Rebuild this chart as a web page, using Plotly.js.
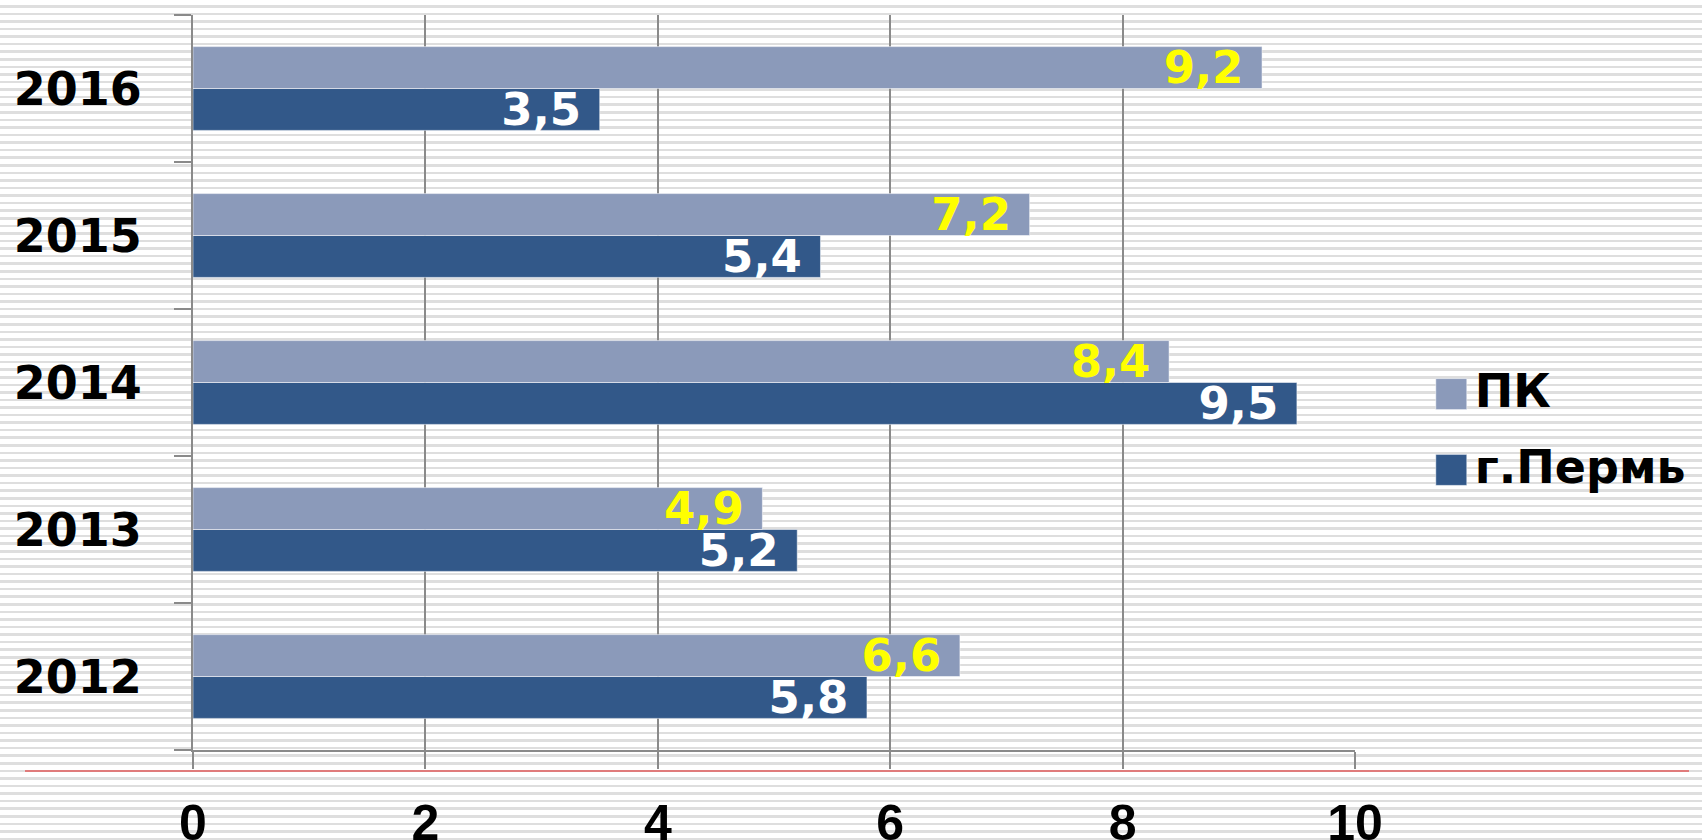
<!DOCTYPE html>
<html>
<head>
<meta charset="utf-8">
<script src="https://cdn.plot.ly/plotly-3.0.1.min.js"></script>
<style>
  html, body { margin: 0; padding: 0; }
  body {
    width: 1702px; height: 840px; overflow: hidden; position: relative;
    background: repeating-linear-gradient(to bottom, #ffffff 0px, #ffffff 5px, #dedede 5px, #dedede 7.57px);
  }
  #myDiv { width: 1702px; height: 840px; }
  #redline { position: absolute; left: 25px; top: 770px; width: 1664px; height: 2px; background: #e07b7b; }
</style>
</head>
<body>
<div id="myDiv"></div>
<div id="redline"></div>
<script>
var years = ['2012', '2013', '2014', '2015', '2016'];
var pkValues = [6.6, 4.9, 8.4, 7.2, 9.2];
var permValues = [5.8, 5.2, 9.5, 5.4, 3.5];
var xTicks = [0, 2, 4, 6, 8, 10];

var boldFont = 'DejaVu Sans, sans-serif';

// first trace sits lower inside each group, so Пермь goes first
var perm = {
    type: 'bar',
    orientation: 'h',
    name: 'г.Пермь',
    legendgroup: 'perm',
    legendrank: 2,
    y: years,
    x: permValues,
    marker: { color: '#325889', line: { width: 1, color: 'rgba(255,255,255,0.5)' } },
    texttemplate: '%{x:.1f}\u00a0',
    textposition: 'inside',
    insidetextanchor: 'end',
    constraintext: 'none',
    textangle: 0,
    insidetextfont: { family: boldFont, size: 45, weight: 'bold', color: '#ffffff' },
    hoverinfo: 'skip'
};

var pk = {
    type: 'bar',
    orientation: 'h',
    name: 'ПК',
    legendgroup: 'pk',
    legendrank: 1,
    y: years,
    x: pkValues,
    marker: { color: '#8b9aba', line: { width: 1, color: 'rgba(255,255,255,0.5)' } },
    texttemplate: '%{x:.1f}\u00a0',
    textposition: 'inside',
    insidetextanchor: 'end',
    constraintext: 'none',
    textangle: 0,
    insidetextfont: { family: boldFont, size: 45, weight: 'bold', color: '#ffff00' },
    hoverinfo: 'skip'
};

var layout = {
    width: 1702,
    height: 840,
    margin: { l: 193, r: 347, t: 15, b: 90 },
    paper_bgcolor: 'rgba(0,0,0,0)',
    plot_bgcolor: 'rgba(0,0,0,0)',
    separators: ', ',
    barmode: 'group',
    bargap: 0.43,
    bargroupgap: 0,
    showlegend: true,
    legend: {
        traceorder: 'grouped',
        tracegroupgap: 13,
        xref: 'container',
        yref: 'container',
        x: 0.843,
        y: 0.491,
        xanchor: 'left',
        yanchor: 'middle',
        bgcolor: 'rgba(0,0,0,0)',
        font: { family: boldFont, size: 46, weight: 'bold', color: '#000000' }
    },
    xaxis: {
        range: [0, 10],
        tickvals: xTicks,
        showgrid: true,
        gridcolor: '#8a8a8a',
        gridwidth: 2,
        zeroline: false,
        showline: true,
        linecolor: '#8a8a8a',
        linewidth: 2,
        ticks: 'outside',
        ticklen: 17,
        tickwidth: 2,
        tickcolor: '#8a8a8a',
        ticklabelstandoff: 11,
        tickfont: { family: 'Liberation Sans, Arial, sans-serif', size: 50, weight: 'bold', color: '#000000' },
        fixedrange: true
    },
    yaxis: {
        type: 'category',
        categoryorder: 'array',
        categoryarray: years,
        showgrid: false,
        zeroline: false,
        showline: true,
        linecolor: '#8a8a8a',
        linewidth: 2,
        ticks: 'outside',
        tickson: 'boundaries',
        ticklen: 17,
        tickwidth: 2,
        tickcolor: '#8a8a8a',
        ticklabelstandoff: 40,
        tickfont: { family: boldFont, size: 46, weight: 'bold', color: '#000000' },
        fixedrange: true
    }
};

var config = { displayModeBar: false, staticPlot: true };

// bigger square swatches in the legend, placed 8px before each label
function bigSwatches() {
    var gd = document.getElementById('myDiv');
    var legend = gd.querySelector('.legend');
    if (!legend) return;
    legend.querySelectorAll('[clip-path]').forEach(function (el) { el.removeAttribute('clip-path'); });
    var side = 31;
    legend.querySelectorAll('.traces').forEach(function (item) {
        var txt = item.querySelector('.legendtext');
        var path = item.querySelector('.legendpoints path');
        if (!txt || !path) return;
        var tb = txt.getBoundingClientRect();
        var m = path.getScreenCTM();
        var right = tb.left - 8;
        var left = right - side;
        var cy = tb.top + tb.height * 0.55;
        var x0 = (left - m.e) / m.a, x1 = (right - m.e) / m.a;
        var y0 = (cy - side / 2 - m.f) / m.d, y1 = (cy + side / 2 - m.f) / m.d;
        path.setAttribute('d', 'M' + x0 + ',' + y0 + 'H' + x1 + 'V' + y1 + 'H' + x0 + 'Z');
    });
}

Plotly.newPlot('myDiv', [perm, pk], layout, config).then(bigSwatches);
</script>
</body>
</html>
